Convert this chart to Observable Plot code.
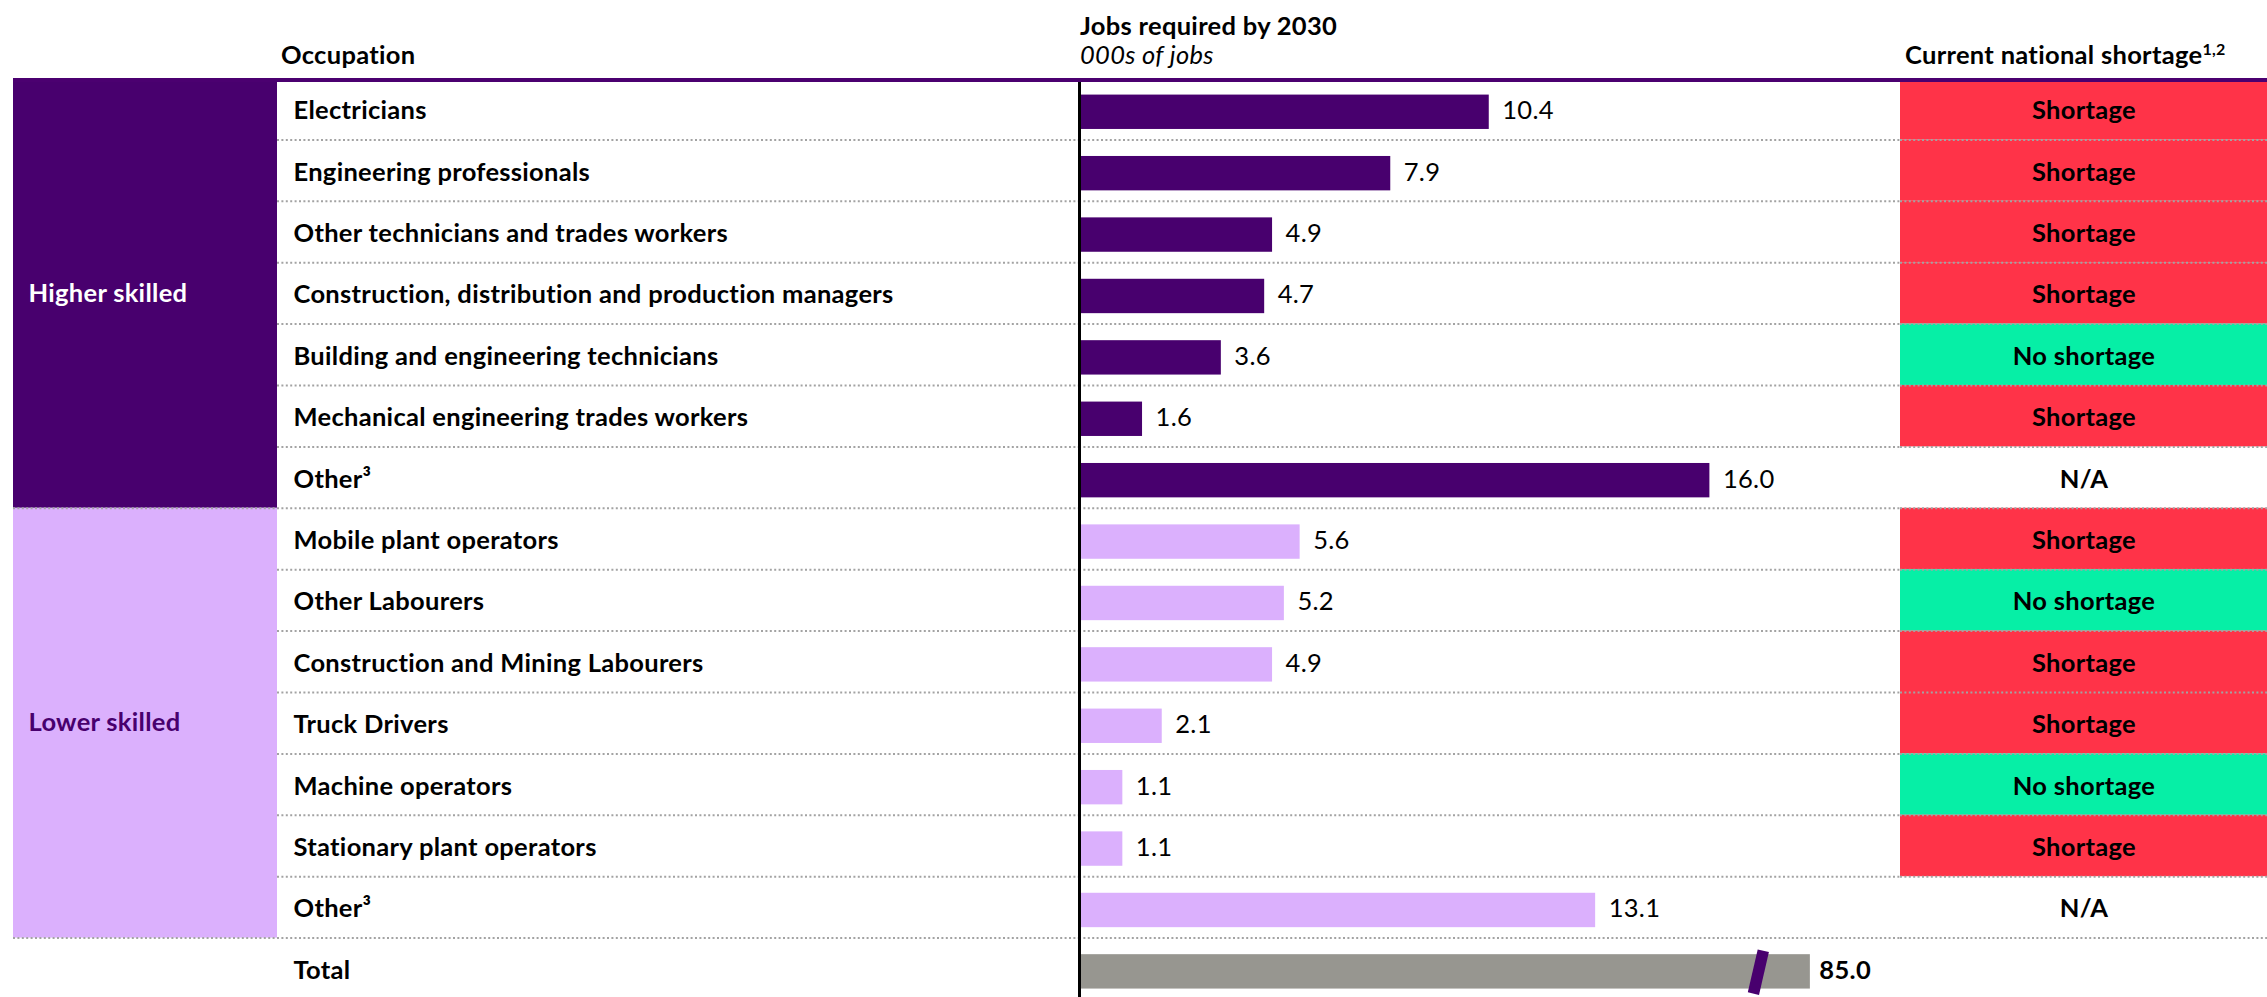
<!DOCTYPE html>
<html><head><meta charset="utf-8">
<script src="https://cdn.jsdelivr.net/npm/d3@7"></script>
<script src="https://cdn.jsdelivr.net/npm/@observablehq/plot@0.6"></script>
<style>
html,body{margin:0;padding:0;background:#fff;}
#chart{position:relative;width:2267px;height:997px;overflow:hidden;font-family:Lato,"Open Sans",sans-serif;color:#000;}
.h{position:absolute;font-size:25.5px;font-weight:700;white-space:nowrap;line-height:24px;letter-spacing:0.3px;}
.h sup{font-size:16px;vertical-align:9px;line-height:0;}
.col{position:absolute;top:78px;}
.col svg{display:block;overflow:visible;}
#topline{position:absolute;left:13px;top:78px;width:2254px;height:4px;background:#4B0070;z-index:5;}
</style></head><body>
<div id="chart">
  <div class="h" style="left:281px;top:42px;">Occupation</div>
  <div class="h" style="left:1080px;top:13px;">Jobs required by 2030</div>
  <div class="h" style="left:1080px;top:42px;font-weight:400;font-style:italic;">000s of jobs</div>
  <div class="h" style="left:1905px;top:42px;">Current national shortage<sup>1,2</sup></div>
  <div class="col" id="colA" style="left:13px;"></div>
  <div class="col" id="colB" style="left:277px;"></div>
  <div class="col" id="colC" style="left:1070px;"></div>
  <div class="col" id="colD" style="left:1900px;"></div>
  <div id="topline"></div>
</div>
<script>
// ---- data ----
const occupations = [
  "Electricians",
  "Engineering professionals",
  "Other technicians and trades workers",
  "Construction, distribution and production managers",
  "Building and engineering technicians",
  "Mechanical engineering trades workers",
  "Other³",
  "Mobile plant operators",
  "Other Labourers",
  "Construction and Mining Labourers",
  "Truck Drivers",
  "Machine operators",
  "Stationary plant operators",
  "Other³",
  "Total"
];
const skillLevels = [
  "Higher skilled","Higher skilled","Higher skilled","Higher skilled","Higher skilled","Higher skilled","Higher skilled",
  "Lower skilled","Lower skilled","Lower skilled","Lower skilled","Lower skilled","Lower skilled","Lower skilled",
  "Total"
];
const jobs2030 = [10.4, 7.9, 4.9, 4.7, 3.6, 1.6, 16.0, 5.6, 5.2, 4.9, 2.1, 1.1, 1.1, 13.1, 85.0];
const shortageStatus = [
  "Shortage","Shortage","Shortage","Shortage","No shortage","Shortage","N/A",
  "Shortage","No shortage","Shortage","Shortage","No shortage","Shortage","N/A",
  ""
];
const skillNames = ["Higher skilled", "Lower skilled", "Total"];
const statusNames = ["Shortage", "No shortage"];
// the Total bar is drawn on a broken axis: its drawn length and the break mark position
const totalBarCap = 18.55;
const axisBreakAt = 17.23;

// ---- styles ----
const DARK = "#48006E", LIGHT = "#DBB0FD", GREY = "#979690";
const RED = "#FF3348", GREEN = "#06EFA6", DOT = "#A3A3A3";
const H = 919, ROW = 61.4;
const font = {fontFamily: "Lato, 'Open Sans', sans-serif", fontSize: "25.5px", letterSpacing: "0.3px", background: "transparent"};
const yScale = {type: "linear", domain: [0, 15], range: [0, 15 * ROW], axis: null};
const dotted = {stroke: DOT, strokeWidth: 2, strokeDasharray: "2,2.4"};

const rows = occupations.map((o, i) => ({
  i, occupation: o, skill: skillLevels[i], jobs: jobs2030[i], status: shortageStatus[i], isTotal: skillLevels[i] === "Total"
}));
const groupSpans = ["Higher skilled", "Lower skilled"].map(s => {
  const idx = rows.filter(r => r.skill === s).map(r => r.i);
  return {skill: s, start: d3.min(idx), end: d3.max(idx) + 1};
});
const boundaries = d3.range(1, occupations.length);
const barEnd = d => d.isTotal ? Math.min(d.jobs, totalBarCap) : d.jobs;
const TY = 0.53;

// column A: skill groups
document.getElementById("colA").append(Plot.plot({
  width: 264, height: H, margin: 0, style: font,
  x: {domain: [0, 1], axis: null}, y: yScale,
  color: {domain: skillNames, range: [DARK, LIGHT, GREY]},
  marks: [
    Plot.rect(groupSpans, {x1: 0, x2: 1, y1: "start", y2: "end", fill: "skill"}),
    Plot.ruleY(groupSpans.map(g => g.end), dotted),
    Plot.text(groupSpans.filter(g => g.skill === "Higher skilled"), {y: d => (d.start + d.end) / 2, text: "skill", frameAnchor: "left", dx: 15, textAnchor: "start", fill: "white", fontWeight: "bold"}),
    Plot.text(groupSpans.filter(g => g.skill === "Lower skilled"), {y: d => (d.start + d.end) / 2, text: "skill", frameAnchor: "left", dx: 15, textAnchor: "start", fill: DARK, fontWeight: "bold"})
  ]
}));

// column B: occupation labels
document.getElementById("colB").append(Plot.plot({
  width: 802, height: H, margin: 0, style: font,
  x: {domain: [0, 1], axis: null}, y: yScale,
  marks: [
    Plot.ruleY(boundaries, dotted),
    Plot.text(rows, {y: d => d.i + TY, text: "occupation", frameAnchor: "left", dx: 16, textAnchor: "start", fill: "black", fontWeight: "bold"})
  ]
}));

// column C: bars
const pxPerUnit = 39.4;
document.getElementById("colC").append(Plot.plot({
  width: 830, height: H, marginLeft: 9, marginRight: 0, marginTop: 0, marginBottom: 0, style: font,
  x: {domain: [0, 821 / pxPerUnit], axis: null}, y: yScale,
  color: {domain: skillNames, range: [DARK, LIGHT, GREY]},
  marks: [
    Plot.ruleY(boundaries, dotted),
    Plot.rect(rows, {x1: 0, x2: barEnd, y1: d => d.i + 0.27, y2: d => d.i + 0.83, fill: "skill"}),
    Plot.vector(rows.filter(d => d.isTotal), {
      x: () => axisBreakAt, y: d => d.i + 0.555, length: 44, rotate: 13, anchor: "middle",
      stroke: DARK, strokeWidth: 11.5, strokeLinecap: "butt",
      shape: {draw(context, l) { context.moveTo(0, 0); context.lineTo(0, -l); }}
    }),
    Plot.ruleX([0], {stroke: "black", strokeWidth: 3}),
    Plot.text(rows.filter(d => !d.isTotal), {x: barEnd, y: d => d.i + TY, text: d => d3.format(".1f")(d.jobs), dx: 13, textAnchor: "start", fill: "black"}),
    Plot.text(rows.filter(d => d.isTotal), {x: barEnd, y: d => d.i + TY, text: d => d3.format(".1f")(d.jobs), dx: 9, textAnchor: "start", fill: "black", fontWeight: "bold"})
  ]
}));

// column D: shortage status
document.getElementById("colD").append(Plot.plot({
  width: 367, height: H, margin: 0, style: font,
  x: {domain: [0, 1], axis: null}, y: yScale,
  color: {domain: statusNames, range: [RED, GREEN]},
  marks: [
    Plot.rect(rows.filter(d => statusNames.includes(d.status)), {x1: 0, x2: 1, y1: "i", y2: d => d.i + 1, fill: "status"}),
    Plot.ruleY(boundaries, dotted),
    Plot.text(rows.filter(d => d.status), {y: d => d.i + TY, text: "status", frameAnchor: "middle", fill: "black", fontWeight: "bold"})
  ]
}));
</script>
</body></html>
